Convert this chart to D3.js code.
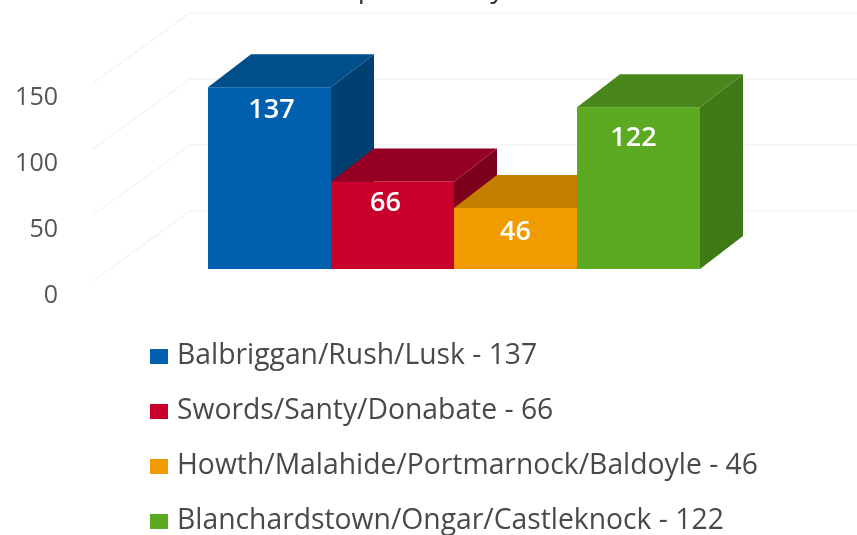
<!DOCTYPE html>
<html>
<head>
<meta charset="utf-8">
<script src="https://cdn.jsdelivr.net/npm/d3@7"></script>
<style>
  html, body { margin: 0; padding: 0; background: #fff; overflow: hidden; }
  text { font-family: "Open Sans", sans-serif; }
</style>
</head>
<body>
<div id="chart"></div>
<script>
// Chart data
var categories = ["Balbriggan/Rush/Lusk", "Swords/Santy/Donabate", "Howth/Malahide/Portmarnock/Baldoyle", "Blanchardstown/Ongar/Castleknock"];
var values = [137, 66, 46, 122];
var yTicks = [0, 50, 100, 150];
var gridTicks = [50, 100, 150, 200];
var frontColors = ["#0060ae", "#c8002c", "#f09c00", "#5baa24"];
var topColors = ["#004f8a", "#950024", "#c57f00", "#48861a"];
var sideColors = ["#013f70", "#7d001e", "#a86c00", "#3f7a17"];

// Chart dimensions
var width = 857;
var height = 535;
var depthX = 43;   // 3D offset of the bars
var depthY = 33;
var wallX = 190;   // where the back wall starts

// Value labels are not quite centred on the bars in the original
var labelShiftX = [2, -7, 0, -5];
var labelShiftY = [21, 20, 23, 29];

var svg = d3.select("#chart").append("svg")
    .attr("width", width)
    .attr("height", height);

var defs = svg.append("defs");
defs.append("filter").attr("id", "soft")
    .append("feGaussianBlur").attr("stdDeviation", 0.7);

var root = svg.append("g").attr("filter", "url(#soft)");

// Scales
var x = d3.scaleBand().domain(categories).range([208, 700]);
var y = d3.scaleLinear().domain([0, 150]).range([269, 70]);
var yWall = d3.scaleLinear().domain([0, 150]).range([277, 79]);
var yLabel = d3.scaleLinear().domain([0, 150]).range([294, 96]);

// Title, cut off by the top of the picture
root.append("text")
    .attr("x", 448)
    .attr("y", -3)
    .attr("text-anchor", "middle")
    .attr("font-size", "28px")
    .attr("fill", "#333")
    .text("Population by Area");

// Back wall grid
root.selectAll("path.grid")
    .data(gridTicks)
    .enter()
    .append("path")
    .attr("class", "grid")
    .attr("fill", "none")
    .attr("stroke", "#f4f4f4")
    .attr("stroke-width", 1.5)
    .attr("d", d => "M93," + (yWall(d) + 70) + "L" + wallX + "," + yWall(d) + "H" + width);

// Y axis labels
root.selectAll("text.tick")
    .data(yTicks)
    .enter()
    .append("text")
    .attr("class", "tick")
    .attr("x", 58)
    .attr("y", d => yLabel(d))
    .attr("dy", "0.35em")
    .attr("text-anchor", "end")
    .attr("font-size", "25px")
    .attr("fill", "#555")
    .text(d => d);

// Bars, left to right so each one covers the side of the previous one
var bars = root.selectAll("g.bar")
    .data(categories)
    .enter()
    .append("g")
    .attr("class", "bar");

bars.append("path")
    .attr("fill", (d, i) => sideColors[i])
    .attr("d", (d, i) => {
        var r = x(d) + x.bandwidth();
        return "M" + r + "," + y(values[i]) + "l" + depthX + "," + (-depthY) + "V" + (y(0) - depthY) + "L" + r + "," + y(0) + "Z";
    });

bars.append("path")
    .attr("fill", (d, i) => topColors[i])
    .attr("d", (d, i) => {
        var l = x(d), r = l + x.bandwidth(), t = y(values[i]);
        return "M" + l + "," + t + "l" + depthX + "," + (-depthY) + "H" + (r + depthX) + "L" + r + "," + t + "Z";
    });

bars.append("rect")
    .attr("fill", (d, i) => frontColors[i])
    .attr("x", d => x(d))
    .attr("y", (d, i) => y(values[i]))
    .attr("width", x.bandwidth())
    .attr("height", (d, i) => y(0) - y(values[i]));

// Value labels
root.selectAll("text.value")
    .data(categories)
    .enter()
    .append("text")
    .attr("class", "value")
    .attr("x", (d, i) => x(d) + x.bandwidth() / 2 + labelShiftX[i])
    .attr("y", (d, i) => y(values[i]) + labelShiftY[i])
    .attr("dy", "0.35em")
    .attr("text-anchor", "middle")
    .attr("font-size", "27px")
    .attr("font-weight", "600")
    .attr("fill", "#fff")
    .text((d, i) => values[i]);

// Legend
var legendY = d3.scalePoint().domain(categories).range([354, 519]);

var legend = root.selectAll("g.legend")
    .data(categories)
    .enter()
    .append("g")
    .attr("class", "legend")
    .attr("transform", d => "translate(0," + legendY(d) + ")");

legend.append("rect")
    .attr("x", 150)
    .attr("y", -5)
    .attr("width", 18)
    .attr("height", 15)
    .attr("fill", (d, i) => frontColors[i]);

legend.append("text")
    .attr("x", 177)
    .attr("dy", "0.35em")
    .attr("font-size", "28.3px")
    .attr("fill", "#4a4a4a")
    .text((d, i) => d + " - " + values[i]);
</script>
</body>
</html>
